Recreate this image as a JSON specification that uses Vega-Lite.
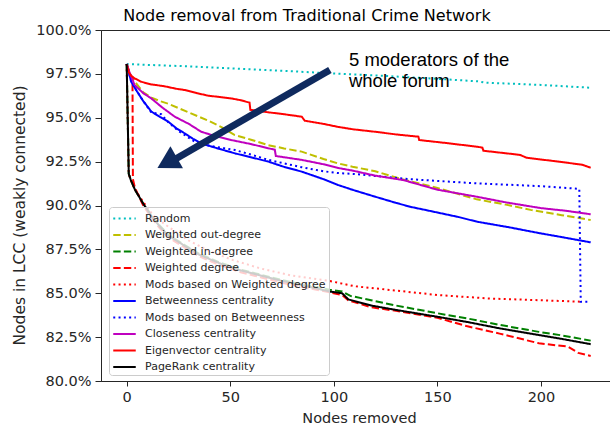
{
  "$schema": "https://vega.github.io/schema/vega-lite/v6.json",
  "width": 516,
  "height": 351,
  "autosize": "none",
  "padding": {"left": 101, "top": 30, "right": 0, "bottom": 48},
  "background": "white",
  "title": {"text": "Node removal from Traditional Crime Network", "fontSize": 16, "font": "DejaVu Sans", "fontWeight": "normal", "color": "black", "anchor": "middle", "dx": -52, "dy": 3, "offset": 1},
  "datasets": {
    "lines": [
      {"s": "Random", "x": 0, "y": 0.9806}, {"s": "Random", "x": 10, "y": 0.9801}, {"s": "Random", "x": 25, "y": 0.9795}, {"s": "Random", "x": 49, "y": 0.9782}, {"s": "Random", "x": 75, "y": 0.9768}, {"s": "Random", "x": 98, "y": 0.9753}, {"s": "Random", "x": 125, "y": 0.9738}, {"s": "Random", "x": 150, "y": 0.9722}, {"s": "Random", "x": 170, "y": 0.9707}, {"s": "Random", "x": 173, "y": 0.97}, {"s": "Random", "x": 200, "y": 0.9687}, {"s": "Random", "x": 224, "y": 0.9671},

      {"s": "Weighted out-degree", "x": 0, "y": 0.9806}, {"s": "Weighted out-degree", "x": 2, "y": 0.974}, {"s": "Weighted out-degree", "x": 5, "y": 0.969}, {"s": "Weighted out-degree", "x": 8, "y": 0.9645}, {"s": "Weighted out-degree", "x": 12, "y": 0.9615}, {"s": "Weighted out-degree", "x": 16, "y": 0.9595}, {"s": "Weighted out-degree", "x": 20, "y": 0.958}, {"s": "Weighted out-degree", "x": 25, "y": 0.9555}, {"s": "Weighted out-degree", "x": 30, "y": 0.953}, {"s": "Weighted out-degree", "x": 35, "y": 0.9505}, {"s": "Weighted out-degree", "x": 40, "y": 0.948}, {"s": "Weighted out-degree", "x": 46, "y": 0.9445}, {"s": "Weighted out-degree", "x": 52, "y": 0.9402}, {"s": "Weighted out-degree", "x": 60, "y": 0.9375}, {"s": "Weighted out-degree", "x": 68, "y": 0.9345}, {"s": "Weighted out-degree", "x": 76, "y": 0.9325}, {"s": "Weighted out-degree", "x": 84.5, "y": 0.9307}, {"s": "Weighted out-degree", "x": 95, "y": 0.9265}, {"s": "Weighted out-degree", "x": 102, "y": 0.924}, {"s": "Weighted out-degree", "x": 109, "y": 0.9221}, {"s": "Weighted out-degree", "x": 120, "y": 0.9195}, {"s": "Weighted out-degree", "x": 133, "y": 0.915}, {"s": "Weighted out-degree", "x": 150, "y": 0.91}, {"s": "Weighted out-degree", "x": 169, "y": 0.9035}, {"s": "Weighted out-degree", "x": 183, "y": 0.9005}, {"s": "Weighted out-degree", "x": 195, "y": 0.8975}, {"s": "Weighted out-degree", "x": 210, "y": 0.8945}, {"s": "Weighted out-degree", "x": 224, "y": 0.8917},

      {"s": "Weighted in-degree", "x": 0, "y": 0.9806}, {"s": "Weighted in-degree", "x": 1, "y": 0.918}, {"s": "Weighted in-degree", "x": 2, "y": 0.9145}, {"s": "Weighted in-degree", "x": 4, "y": 0.909}, {"s": "Weighted in-degree", "x": 6, "y": 0.905}, {"s": "Weighted in-degree", "x": 8, "y": 0.901}, {"s": "Weighted in-degree", "x": 12, "y": 0.8945}, {"s": "Weighted in-degree", "x": 16, "y": 0.8885}, {"s": "Weighted in-degree", "x": 20, "y": 0.8835}, {"s": "Weighted in-degree", "x": 28, "y": 0.8775}, {"s": "Weighted in-degree", "x": 35, "y": 0.8725}, {"s": "Weighted in-degree", "x": 45, "y": 0.8675}, {"s": "Weighted in-degree", "x": 55, "y": 0.8635}, {"s": "Weighted in-degree", "x": 65, "y": 0.8605}, {"s": "Weighted in-degree", "x": 75, "y": 0.8575}, {"s": "Weighted in-degree", "x": 85, "y": 0.855}, {"s": "Weighted in-degree", "x": 98, "y": 0.852}, {"s": "Weighted in-degree", "x": 104, "y": 0.851}, {"s": "Weighted in-degree", "x": 108, "y": 0.8485}, {"s": "Weighted in-degree", "x": 118, "y": 0.846}, {"s": "Weighted in-degree", "x": 130, "y": 0.843}, {"s": "Weighted in-degree", "x": 150, "y": 0.8386}, {"s": "Weighted in-degree", "x": 165, "y": 0.8355}, {"s": "Weighted in-degree", "x": 180, "y": 0.832}, {"s": "Weighted in-degree", "x": 199, "y": 0.828}, {"s": "Weighted in-degree", "x": 210, "y": 0.826}, {"s": "Weighted in-degree", "x": 224, "y": 0.823},

      {"s": "Weighted degree", "x": 0, "y": 0.9806}, {"s": "Weighted degree", "x": 1.5, "y": 0.975}, {"s": "Weighted degree", "x": 2.8, "y": 0.973}, {"s": "Weighted degree", "x": 3, "y": 0.915}, {"s": "Weighted degree", "x": 4, "y": 0.91}, {"s": "Weighted degree", "x": 6, "y": 0.905}, {"s": "Weighted degree", "x": 8, "y": 0.9}, {"s": "Weighted degree", "x": 12, "y": 0.893}, {"s": "Weighted degree", "x": 16, "y": 0.887}, {"s": "Weighted degree", "x": 20, "y": 0.882}, {"s": "Weighted degree", "x": 28, "y": 0.876}, {"s": "Weighted degree", "x": 35, "y": 0.871}, {"s": "Weighted degree", "x": 45, "y": 0.866}, {"s": "Weighted degree", "x": 55, "y": 0.862}, {"s": "Weighted degree", "x": 65, "y": 0.859}, {"s": "Weighted degree", "x": 75, "y": 0.856}, {"s": "Weighted degree", "x": 85, "y": 0.8535}, {"s": "Weighted degree", "x": 98, "y": 0.8505}, {"s": "Weighted degree", "x": 104, "y": 0.849}, {"s": "Weighted degree", "x": 107, "y": 0.846}, {"s": "Weighted degree", "x": 118, "y": 0.842}, {"s": "Weighted degree", "x": 130, "y": 0.84}, {"s": "Weighted degree", "x": 150, "y": 0.836}, {"s": "Weighted degree", "x": 164, "y": 0.8313}, {"s": "Weighted degree", "x": 180, "y": 0.827}, {"s": "Weighted degree", "x": 199, "y": 0.8215}, {"s": "Weighted degree", "x": 213, "y": 0.8196}, {"s": "Weighted degree", "x": 218, "y": 0.816}, {"s": "Weighted degree", "x": 224, "y": 0.8143},

      {"s": "Mods based on Weighted degree", "x": 0, "y": 0.9806}, {"s": "Mods based on Weighted degree", "x": 1, "y": 0.918}, {"s": "Mods based on Weighted degree", "x": 2, "y": 0.9145}, {"s": "Mods based on Weighted degree", "x": 4, "y": 0.909}, {"s": "Mods based on Weighted degree", "x": 8, "y": 0.902}, {"s": "Mods based on Weighted degree", "x": 13, "y": 0.894}, {"s": "Mods based on Weighted degree", "x": 20, "y": 0.888}, {"s": "Mods based on Weighted degree", "x": 30, "y": 0.88}, {"s": "Mods based on Weighted degree", "x": 40, "y": 0.874}, {"s": "Mods based on Weighted degree", "x": 51, "y": 0.869}, {"s": "Mods based on Weighted degree", "x": 65, "y": 0.864}, {"s": "Mods based on Weighted degree", "x": 80, "y": 0.86}, {"s": "Mods based on Weighted degree", "x": 98, "y": 0.857}, {"s": "Mods based on Weighted degree", "x": 110, "y": 0.854}, {"s": "Mods based on Weighted degree", "x": 127, "y": 0.8519}, {"s": "Mods based on Weighted degree", "x": 150, "y": 0.849}, {"s": "Mods based on Weighted degree", "x": 175, "y": 0.847}, {"s": "Mods based on Weighted degree", "x": 200, "y": 0.846}, {"s": "Mods based on Weighted degree", "x": 219, "y": 0.8452},

      {"s": "Betweenness centrality", "x": 0, "y": 0.9806}, {"s": "Betweenness centrality", "x": 1, "y": 0.976}, {"s": "Betweenness centrality", "x": 2.2, "y": 0.9705}, {"s": "Betweenness centrality", "x": 5, "y": 0.965}, {"s": "Betweenness centrality", "x": 8, "y": 0.9595}, {"s": "Betweenness centrality", "x": 11.9, "y": 0.9535}, {"s": "Betweenness centrality", "x": 16, "y": 0.9505}, {"s": "Betweenness centrality", "x": 20, "y": 0.9478}, {"s": "Betweenness centrality", "x": 24, "y": 0.944}, {"s": "Betweenness centrality", "x": 28, "y": 0.9411}, {"s": "Betweenness centrality", "x": 32, "y": 0.938}, {"s": "Betweenness centrality", "x": 36, "y": 0.9354}, {"s": "Betweenness centrality", "x": 44, "y": 0.9325}, {"s": "Betweenness centrality", "x": 52.3, "y": 0.9297}, {"s": "Betweenness centrality", "x": 60, "y": 0.9275}, {"s": "Betweenness centrality", "x": 68.4, "y": 0.925}, {"s": "Betweenness centrality", "x": 76, "y": 0.922}, {"s": "Betweenness centrality", "x": 84.5, "y": 0.9193}, {"s": "Betweenness centrality", "x": 95, "y": 0.915}, {"s": "Betweenness centrality", "x": 102, "y": 0.9117}, {"s": "Betweenness centrality", "x": 109.4, "y": 0.9088}, {"s": "Betweenness centrality", "x": 120, "y": 0.905}, {"s": "Betweenness centrality", "x": 130, "y": 0.9015}, {"s": "Betweenness centrality", "x": 136.8, "y": 0.8993}, {"s": "Betweenness centrality", "x": 150, "y": 0.896}, {"s": "Betweenness centrality", "x": 160, "y": 0.8935}, {"s": "Betweenness centrality", "x": 169, "y": 0.8908}, {"s": "Betweenness centrality", "x": 185, "y": 0.8875}, {"s": "Betweenness centrality", "x": 199, "y": 0.8843}, {"s": "Betweenness centrality", "x": 210, "y": 0.882}, {"s": "Betweenness centrality", "x": 224, "y": 0.879},

      {"s": "Mods based on Betweenness", "x": 0, "y": 0.9806}, {"s": "Mods based on Betweenness", "x": 1, "y": 0.976}, {"s": "Mods based on Betweenness", "x": 2.2, "y": 0.9705}, {"s": "Mods based on Betweenness", "x": 5, "y": 0.965}, {"s": "Mods based on Betweenness", "x": 8, "y": 0.9595}, {"s": "Mods based on Betweenness", "x": 11.9, "y": 0.953}, {"s": "Mods based on Betweenness", "x": 16.7, "y": 0.952}, {"s": "Mods based on Betweenness", "x": 20, "y": 0.9475}, {"s": "Mods based on Betweenness", "x": 25, "y": 0.9425}, {"s": "Mods based on Betweenness", "x": 32.8, "y": 0.9364}, {"s": "Mods based on Betweenness", "x": 40, "y": 0.934}, {"s": "Mods based on Betweenness", "x": 52.3, "y": 0.9316}, {"s": "Mods based on Betweenness", "x": 60, "y": 0.929}, {"s": "Mods based on Betweenness", "x": 68.4, "y": 0.926}, {"s": "Mods based on Betweenness", "x": 76, "y": 0.924}, {"s": "Mods based on Betweenness", "x": 84.5, "y": 0.9218}, {"s": "Mods based on Betweenness", "x": 95, "y": 0.9195}, {"s": "Mods based on Betweenness", "x": 102, "y": 0.9185}, {"s": "Mods based on Betweenness", "x": 109.4, "y": 0.918}, {"s": "Mods based on Betweenness", "x": 120, "y": 0.9168}, {"s": "Mods based on Betweenness", "x": 136.8, "y": 0.915}, {"s": "Mods based on Betweenness", "x": 150, "y": 0.914}, {"s": "Mods based on Betweenness", "x": 169, "y": 0.9126}, {"s": "Mods based on Betweenness", "x": 185, "y": 0.9118}, {"s": "Mods based on Betweenness", "x": 200, "y": 0.911}, {"s": "Mods based on Betweenness", "x": 218.5, "y": 0.9095}, {"s": "Mods based on Betweenness", "x": 219.2, "y": 0.8452}, {"s": "Mods based on Betweenness", "x": 222.5, "y": 0.8452},

      {"s": "Closeness centrality", "x": 0, "y": 0.9806}, {"s": "Closeness centrality", "x": 1, "y": 0.977}, {"s": "Closeness centrality", "x": 3.8, "y": 0.9687}, {"s": "Closeness centrality", "x": 8, "y": 0.964}, {"s": "Closeness centrality", "x": 11.9, "y": 0.961}, {"s": "Closeness centrality", "x": 17, "y": 0.956}, {"s": "Closeness centrality", "x": 23.2, "y": 0.9506}, {"s": "Closeness centrality", "x": 30, "y": 0.9465}, {"s": "Closeness centrality", "x": 36, "y": 0.942}, {"s": "Closeness centrality", "x": 43, "y": 0.9395}, {"s": "Closeness centrality", "x": 50.5, "y": 0.9373}, {"s": "Closeness centrality", "x": 60, "y": 0.935}, {"s": "Closeness centrality", "x": 68.4, "y": 0.9326}, {"s": "Closeness centrality", "x": 71.5, "y": 0.9318}, {"s": "Closeness centrality", "x": 72, "y": 0.9282}, {"s": "Closeness centrality", "x": 84.5, "y": 0.926}, {"s": "Closeness centrality", "x": 95, "y": 0.9235}, {"s": "Closeness centrality", "x": 102, "y": 0.9214}, {"s": "Closeness centrality", "x": 109.4, "y": 0.9198}, {"s": "Closeness centrality", "x": 120, "y": 0.917}, {"s": "Closeness centrality", "x": 133.5, "y": 0.9145}, {"s": "Closeness centrality", "x": 150, "y": 0.909}, {"s": "Closeness centrality", "x": 169, "y": 0.905}, {"s": "Closeness centrality", "x": 183, "y": 0.9018}, {"s": "Closeness centrality", "x": 200, "y": 0.8985}, {"s": "Closeness centrality", "x": 212, "y": 0.897}, {"s": "Closeness centrality", "x": 224, "y": 0.895},

      {"s": "Eigenvector centrality", "x": 0, "y": 0.9806}, {"s": "Eigenvector centrality", "x": 1, "y": 0.976}, {"s": "Eigenvector centrality", "x": 2, "y": 0.974}, {"s": "Eigenvector centrality", "x": 3.8, "y": 0.9725}, {"s": "Eigenvector centrality", "x": 7, "y": 0.9705}, {"s": "Eigenvector centrality", "x": 11.9, "y": 0.969}, {"s": "Eigenvector centrality", "x": 18, "y": 0.968}, {"s": "Eigenvector centrality", "x": 24, "y": 0.9665}, {"s": "Eigenvector centrality", "x": 28, "y": 0.9658}, {"s": "Eigenvector centrality", "x": 34, "y": 0.964}, {"s": "Eigenvector centrality", "x": 39.2, "y": 0.9626}, {"s": "Eigenvector centrality", "x": 45, "y": 0.9618}, {"s": "Eigenvector centrality", "x": 50.5, "y": 0.961}, {"s": "Eigenvector centrality", "x": 55, "y": 0.96}, {"s": "Eigenvector centrality", "x": 59.3, "y": 0.9586}, {"s": "Eigenvector centrality", "x": 59.7, "y": 0.9545}, {"s": "Eigenvector centrality", "x": 68.4, "y": 0.9531}, {"s": "Eigenvector centrality", "x": 76, "y": 0.952}, {"s": "Eigenvector centrality", "x": 84.5, "y": 0.9506}, {"s": "Eigenvector centrality", "x": 86, "y": 0.9483}, {"s": "Eigenvector centrality", "x": 95, "y": 0.9465}, {"s": "Eigenvector centrality", "x": 102, "y": 0.9448}, {"s": "Eigenvector centrality", "x": 109.4, "y": 0.9434}, {"s": "Eigenvector centrality", "x": 120, "y": 0.942}, {"s": "Eigenvector centrality", "x": 130, "y": 0.9405}, {"s": "Eigenvector centrality", "x": 140.8, "y": 0.9392}, {"s": "Eigenvector centrality", "x": 141.2, "y": 0.9373}, {"s": "Eigenvector centrality", "x": 155, "y": 0.9355}, {"s": "Eigenvector centrality", "x": 169, "y": 0.9335}, {"s": "Eigenvector centrality", "x": 171.7, "y": 0.933}, {"s": "Eigenvector centrality", "x": 172.2, "y": 0.9312}, {"s": "Eigenvector centrality", "x": 185, "y": 0.9295}, {"s": "Eigenvector centrality", "x": 190, "y": 0.9288}, {"s": "Eigenvector centrality", "x": 193, "y": 0.9272}, {"s": "Eigenvector centrality", "x": 205, "y": 0.9255}, {"s": "Eigenvector centrality", "x": 215, "y": 0.924}, {"s": "Eigenvector centrality", "x": 220, "y": 0.9232}, {"s": "Eigenvector centrality", "x": 224, "y": 0.9215},

      {"s": "PageRank centrality", "x": 0, "y": 0.9806}, {"s": "PageRank centrality", "x": 1, "y": 0.918}, {"s": "PageRank centrality", "x": 2, "y": 0.9145}, {"s": "PageRank centrality", "x": 4, "y": 0.909}, {"s": "PageRank centrality", "x": 6, "y": 0.905}, {"s": "PageRank centrality", "x": 8, "y": 0.901}, {"s": "PageRank centrality", "x": 12, "y": 0.894}, {"s": "PageRank centrality", "x": 16, "y": 0.888}, {"s": "PageRank centrality", "x": 20, "y": 0.883}, {"s": "PageRank centrality", "x": 28, "y": 0.877}, {"s": "PageRank centrality", "x": 35, "y": 0.872}, {"s": "PageRank centrality", "x": 45, "y": 0.867}, {"s": "PageRank centrality", "x": 55, "y": 0.863}, {"s": "PageRank centrality", "x": 65, "y": 0.86}, {"s": "PageRank centrality", "x": 75, "y": 0.857}, {"s": "PageRank centrality", "x": 85, "y": 0.8545}, {"s": "PageRank centrality", "x": 98, "y": 0.851}, {"s": "PageRank centrality", "x": 104, "y": 0.85}, {"s": "PageRank centrality", "x": 107, "y": 0.8465}, {"s": "PageRank centrality", "x": 118, "y": 0.843}, {"s": "PageRank centrality", "x": 130, "y": 0.8405}, {"s": "PageRank centrality", "x": 150, "y": 0.8366}, {"s": "PageRank centrality", "x": 165, "y": 0.8335}, {"s": "PageRank centrality", "x": 180, "y": 0.83}, {"s": "PageRank centrality", "x": 199, "y": 0.8262}, {"s": "PageRank centrality", "x": 210, "y": 0.824}, {"s": "PageRank centrality", "x": 224, "y": 0.821}
    ],
    "arrow": [{"x": 98.1, "y": 0.9772, "x2": 21.9, "y2": 0.9254}],
    "head": [{"x": 19.5, "y": 0.9244}],
    "note": [
      {"x": 107.3, "y": 0.9795, "t": "5 moderators of the"},
      {"x": 107.3, "y": 0.9677, "t": "whole forum"}
    ]
  },
  "layer": [
    {
      "data": {"name": "lines"},
      "mark": {"type": "line", "strokeWidth": 2, "clip": true, "strokeCap": "butt"},
      "encoding": {
        "x": {"field": "x", "type": "quantitative", "scale": {"domain": [-12.4, 236.7], "nice": false, "zero": false},
          "axis": {"values": [0, 50, 100, 150, 200], "title": "Nodes removed", "grid": false, "tickSize": 5, "labelPadding": 4, "titlePadding": 8}},
        "y": {"field": "y", "type": "quantitative", "scale": {"domain": [0.8, 1.0], "nice": false, "zero": false},
          "axis": {"values": [0.8, 0.825, 0.85, 0.875, 0.9, 0.925, 0.95, 0.975, 1.0], "format": ".1%", "title": "Nodes in LCC (weakly connected)", "grid": false, "tickSize": 6, "labelPadding": 4, "titleX": -74, "titleY": 185, "titleFontSize": 15.5}},
        "color": {"field": "s", "type": "nominal",
          "scale": {"domain": ["Random", "Weighted out-degree", "Weighted in-degree", "Weighted degree", "Mods based on Weighted degree", "Betweenness centrality", "Mods based on Betweenness", "Closeness centrality", "Eigenvector centrality", "PageRank centrality"],
            "range": ["#00BFBF", "#BFBF00", "#008000", "#FF0000", "#FF0000", "#0000FF", "#0000FF", "#BF00BF", "#FF0000", "#000000"]},
          "legend": {"title": null}},
        "strokeDash": {"field": "s", "type": "nominal",
          "scale": {"domain": ["Random", "Weighted out-degree", "Weighted in-degree", "Weighted degree", "Mods based on Weighted degree", "Betweenness centrality", "Mods based on Betweenness", "Closeness centrality", "Eigenvector centrality", "PageRank centrality"],
            "range": [[2, 3.3], [7.4, 3.2], [7.4, 3.2], [7.4, 3.2], [2, 3.3], [1, 0], [2, 3.3], [1, 0], [1, 0], [1, 0]]},
          "legend": {"title": null}}
      }
    },
    {
      "data": {"name": "arrow"},
      "mark": {"type": "rule", "color": "#0f2a5e", "strokeWidth": 7, "strokeCap": "butt"},
      "encoding": {
        "x": {"field": "x", "type": "quantitative"},
        "y": {"field": "y", "type": "quantitative"},
        "x2": {"field": "x2"},
        "y2": {"field": "y2"}
      }
    },
    {
      "data": {"name": "head"},
      "mark": {"type": "point", "shape": "triangle-up", "size": 650, "filled": true, "color": "#0f2a5e", "opacity": 1, "angle": 240.5},
      "encoding": {
        "x": {"field": "x", "type": "quantitative"},
        "y": {"field": "y", "type": "quantitative"}
      }
    },
    {
      "data": {"name": "note"},
      "mark": {"type": "text", "align": "left", "baseline": "alphabetic", "font": "Liberation Sans", "fontSize": 18.5, "color": "black"},
      "encoding": {
        "x": {"field": "x", "type": "quantitative"},
        "y": {"field": "y", "type": "quantitative"},
        "text": {"field": "t"}
      }
    }
  ],
  "config": {
    "view": {"stroke": "#262626", "strokeWidth": 1},
    "axis": {"domainColor": "#262626", "tickColor": "#262626", "labelColor": "#262626", "titleColor": "#262626", "labelFont": "DejaVu Sans", "titleFont": "DejaVu Sans", "labelFontSize": 14.5, "titleFontSize": 14.5, "titleFontWeight": "normal"},
    "legend": {"orient": "none", "legendX": 8, "legendY": 177, "fillColor": "rgba(255,255,255,0.8)", "strokeColor": "#cccccc", "cornerRadius": 3, "padding": 3, "labelFont": "DejaVu Sans", "labelFontSize": 11, "labelColor": "#262626", "symbolType": "M-1.5,0H1.5", "symbolSize": 225, "symbolStrokeWidth": 2, "symbolOffset": 4, "rowPadding": 2.5, "labelOffset": 12, "labelLimit": 300}
  }
}
